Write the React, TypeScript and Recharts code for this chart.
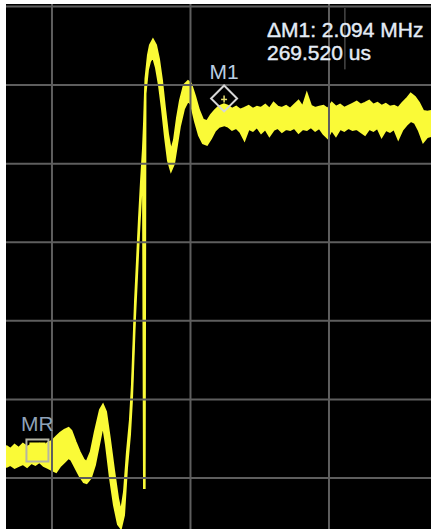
import React from "react";
import {
  ComposedChart,
  Area,
  XAxis,
  YAxis,
  ReferenceLine,
  ReferenceDot,
  ReferenceArea,
} from "recharts";

// time in microseconds (200 us / div), frequency offset in MHz (0.5 MHz / div)
const timeUs = [
  -66.4, -60, -54, -48, -42, -36, -30, -24, -18, -12, -6, 0, 6, 12, 18, 24, 28, 34, 40, 46, 50, 56, 62,
  69.3, 73.6, 78.0, 83.8, 89.5, 95.3, 99.6, 104.0, 108.3, 112.6, 115.5, 119.9, 122.7, 125.6, 128.5,
  131.4, 132.9, 133.8, 135.0, 138.6, 141.5, 145.8, 150.2, 154.5, 158.8, 163.2, 167.5, 171.8, 176.2,
  180.5, 184.8, 190.6, 196.4, 200.7, 206.5, 212.3, 218.0, 223.8, 229.6, 235.4, 241.2, 248.4, 254.2,
  260, 266, 272, 278, 284, 290, 296, 302, 308, 314, 320, 326, 332, 338, 344, 350, 356, 362, 368, 374,
  380, 386, 392, 398, 404, 410, 416, 422, 428, 434, 440, 446, 452, 458, 464, 470, 476, 482, 488, 494,
  500, 506, 512, 518, 524, 530, 536, 542, 548,
];

// lower edge of the noisy trace
const traceLow = [
  0.07, 0.083, 0.064, 0.077, 0.089, 0.07, 0.096, 0.083, 0.102, 0.077, 0.064, 0.051, 0.038, 0.077, 0.102,
  0.128, 0.115, 0.064, 0.013, -0.026, -0.032, 0.0, 0.083,
  0.243, 0.338, 0.211, 0.0, -0.172, -0.294, -0.319, -0.236, 0.064, 0.274, 0.498, 1.021, 1.276, 1.55, 1.786,
  1.979, -0.064, -0.064, 2.445, 2.6, 2.65, 2.68, 2.61, 2.5, 2.35, 2.17, 2.02, 1.955, 2.0,
  2.12, 2.24, 2.35, 2.4, 2.38, 2.27, 2.18, 2.13, 2.12, 2.16, 2.21, 2.235, 2.245, 2.236,
  2.215, 2.228, 2.202, 2.151, 2.221, 2.209, 2.234, 2.196, 2.221, 2.177, 2.215, 2.228, 2.202, 2.221, 2.215,
  2.228, 2.196, 2.221, 2.215, 2.234, 2.209, 2.228, 2.189, 2.164, 2.215, 2.177, 2.221, 2.209, 2.228, 2.215,
  2.221, 2.202, 2.183, 2.221, 2.209, 2.228, 2.17, 2.215, 2.202, 2.221, 2.157, 2.215, 2.247, 2.272, 2.26,
  2.209, 2.138, 2.17, 2.177,
];

// upper edge of the noisy trace
const traceHigh = [
  0.204, 0.185, 0.211, 0.191, 0.217, 0.198, 0.211, 0.204, 0.217, 0.204, 0.223, 0.236, 0.262, 0.287, 0.306,
  0.319, 0.3, 0.23, 0.166, 0.115, 0.102, 0.166, 0.294,
  0.434, 0.466, 0.421, 0.243, 0.051, -0.128, -0.217, -0.089, 0.166, 0.37, 0.593, 1.123, 1.378, 1.646, 1.882,
  2.094, 2.253, 2.381, 2.54, 2.69, 2.755, 2.79, 2.755, 2.665, 2.53, 2.35, 2.19, 2.08, 2.15,
  2.29, 2.4, 2.5, 2.525, 2.51, 2.43, 2.34, 2.28, 2.27, 2.31, 2.34, 2.365, 2.378, 2.368,
  2.349, 2.362, 2.343, 2.355, 2.368, 2.349, 2.362, 2.355, 2.375, 2.349, 2.387, 2.362, 2.355, 2.368, 2.349,
  2.375, 2.4, 2.362, 2.445, 2.368, 2.355, 2.362, 2.368, 2.349, 2.387, 2.362, 2.375, 2.355, 2.368, 2.381,
  2.394, 2.375, 2.387, 2.4, 2.375, 2.387, 2.368, 2.381, 2.362, 2.368, 2.355, 2.387, 2.413, 2.445, 2.425,
  2.387, 2.336, 2.33, 2.336,
];

const xGrid = [0, 200, 400];
const yGrid = [0, 0.5, 1, 1.5, 2, 2.5, 3];

const markerRef = { label: "MR", t: -21, mhz: 0.175 };
const marker1 = { label: "M1", t: 248.52, mhz: 2.415 };
const readout = ["\u0394M1: 2.094 MHz", "269.520 us"];

const YELLOW = "#fafa37";
const GRID = "#5e5e5e";
const FONT = "'Liberation Sans', Arial, sans-serif";

const data = timeUs.map((t, i) => ({ t, band: [traceLow[i], traceHigh[i]] }));

const SquareMarker = (props: any) => {
  const { cx, cy } = props;
  return (
    <g>
      <rect x={cx - 8} y={cy - 8} width={16} height={16} fill={YELLOW} />
      <rect x={cx - 11} y={cy - 11} width={22} height={22} fill="none" stroke="#b5b5a4" strokeWidth={2} />
    </g>
  );
};

const DiamondMarker = (props: any) => {
  const { cx, cy } = props;
  const h = 13;
  return (
    <g>
      <polygon
        points={`${cx},${cy - h} ${cx + h},${cy} ${cx},${cy + h} ${cx - h},${cy}`}
        fill="none"
        stroke="#d6d6d6"
        strokeWidth={2}
      />
      <line x1={cx} y1={cy - 3} x2={cx} y2={cy + 4} stroke="#e8e070" strokeWidth={1.5} />
      <line x1={cx - 3} y1={cy + 1} x2={cx + 3} y2={cy + 1} stroke="#e8e070" strokeWidth={1.5} />
    </g>
  );
};

export default function App() {
  const W = 425;
  const H = 525;
  return (
    <div
      style={{
        position: "absolute",
        left: 6,
        top: 4,
        width: W,
        height: H,
        background: "#000",
        overflow: "hidden",
      }}
    >
      <ComposedChart width={W} height={H} data={data} margin={{ top: 0, right: 0, bottom: 0, left: 0 }}>
        <XAxis
          dataKey="t"
          type="number"
          domain={[-66.4, 547.3]}
          ticks={xGrid}
          allowDataOverflow
          hide
        />
        <YAxis type="number" domain={[-0.3245, 3.016]} ticks={yGrid} allowDataOverflow hide />

        {xGrid.map((x) => (
          <ReferenceLine key={"vx" + x} x={x} stroke={GRID} strokeWidth={2} />
        ))}
        {yGrid.map((y) => (
          <ReferenceLine key={"hy" + y} y={y} stroke={GRID} strokeWidth={2} />
        ))}

        {/* readout box hides the grid behind the text */}
        <ReferenceArea x1={300} x2={547.3} y1={2.6} y2={2.99} fill="#000" fillOpacity={1} stroke="none" />
        <ReferenceLine
          segment={[
            { x: 423, y: 2.6 },
            { x: 423, y: 2.99 },
          ]}
          stroke="#6a6a6a"
          strokeWidth={1}
        />

        <Area
          type="linear"
          dataKey="band"
          stroke={YELLOW}
          strokeWidth={2}
          fill={YELLOW}
          fillOpacity={1}
          isAnimationActive={false}
          dot={false}
          activeDot={false}
        />

        <ReferenceDot
          x={markerRef.t}
          y={markerRef.mhz}
          r={10}
          shape={SquareMarker}
          label={{
            value: markerRef.label,
            position: "top",
            offset: 9,
            fill: "#8fa2b8",
            fontSize: 21,
            fontFamily: FONT,
          }}
        />
        <ReferenceDot
          x={marker1.t}
          y={marker1.mhz}
          r={10}
          shape={DiamondMarker}
          label={{
            value: marker1.label,
            position: "top",
            offset: 9,
            fill: "#b9cde2",
            fontSize: 21,
            fontFamily: FONT,
          }}
        />
      </ComposedChart>

      <svg
        width={W}
        height={H}
        style={{ position: "absolute", left: 0, top: 0, pointerEvents: "none" }}
      >
        <text x={261} y={33} fill="#e4ecf6" stroke="#e4ecf6" strokeWidth={0.4} fontSize={21} fontFamily={FONT}>
          {readout[0]}
        </text>
        <text x={261} y={56} fill="#e4ecf6" stroke="#e4ecf6" strokeWidth={0.4} fontSize={21} fontFamily={FONT}>
          {readout[1]}
        </text>
      </svg>
    </div>
  );
}
